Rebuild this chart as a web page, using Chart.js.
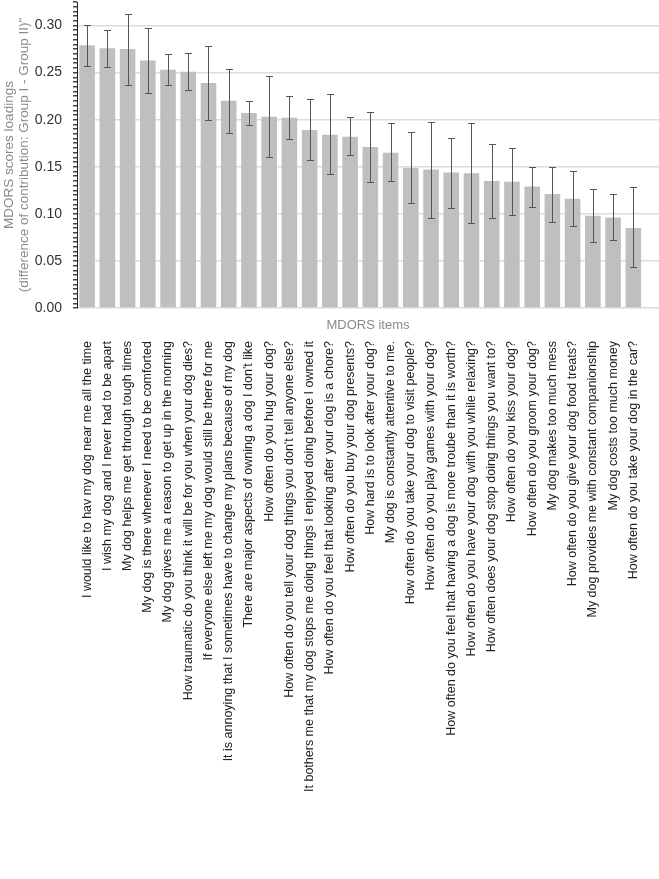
<!DOCTYPE html>
<html>
<head>
<meta charset="utf-8">
<script src="https://cdn.jsdelivr.net/npm/chart.js@4.4.1/dist/chart.umd.min.js"></script>
<style>
  html, body { margin: 0; padding: 0; background: #fff; }
  #wrap { width: 659px; height: 879px; position: relative; }
</style>
</head>
<body>
<div id="wrap"><canvas id="myChart"></canvas></div>
<script>
// MDORS items, sorted by loading
var items = [
  'I would like to hav my dog near me all the time',
  'I wish my dog and I never had to be apart',
  'My dog helps me get through tough times',
  'My dog is there whenever I need to be comforted',
  'My dog gives me a reason to get up in the morning',
  'How traumatic do you think it will be for you when your dog dies?',
  'If everyone else left me my dog would still be there for me',
  'It is annoying that I sometimes have to change my plans because of my dog',
  "There are major aspects of owning a dog I don't like",
  'How often do you hug your dog?',
  "How often do you tell your dog things you don't tell anyone else?",
  'It bothers me that my dog stops me doing things I enjoyed doing before I owned it',
  'How often do you feel that looking after your dog is a chore?',
  'How often do you buy your dog presents?',
  'How hard is to look after your dog?',
  'My dog is constantly attentive to me.',
  'How often do you take your dog to visit people?',
  'How often do you play games with your dog?',
  'How often do you feel that having a dog is more troube than it is worth?',
  'How often do you have your dog with you while relaxing?',
  'How often does your dog stop doing things you want to?',
  'How often do you kiss your dog?',
  'How often do you groom your dog?',
  'My dog makes too much mess',
  'How often do you give your dog food treats?',
  'My dog provides me with constant companionship',
  'My dog costs too much money',
  'How often do you take your dog in the car?'
];

var loadings = [0.279, 0.276, 0.275, 0.263, 0.253, 0.251, 0.239, 0.220, 0.207, 0.203, 0.202, 0.189, 0.184, 0.182,
                0.171, 0.165, 0.149, 0.147, 0.144, 0.143, 0.135, 0.134, 0.129, 0.121, 0.116, 0.098, 0.096, 0.085];
var upper = [0.301, 0.295, 0.312, 0.297, 0.270, 0.271, 0.278, 0.254, 0.220, 0.246, 0.225, 0.222, 0.227, 0.203,
             0.208, 0.196, 0.187, 0.198, 0.181, 0.196, 0.174, 0.170, 0.150, 0.150, 0.145, 0.126, 0.121, 0.128];
var lower = [0.257, 0.256, 0.237, 0.228, 0.237, 0.232, 0.200, 0.186, 0.194, 0.160, 0.179, 0.157, 0.142, 0.162,
             0.134, 0.135, 0.111, 0.096, 0.106, 0.090, 0.096, 0.099, 0.107, 0.091, 0.087, 0.070, 0.072, 0.044];

// y axis: labelled every 0.05, small ticks every 0.005
var yMax = 0.325;
var yMajor = 0.05;
var yMinor = 0.005;

// item index range of the x axis (plot runs a bit past the last bar)
var xMin = -0.5;
var xMax = 28.27;

function isMajor(v) {
  return Math.round(v * 1000) % Math.round(yMajor * 1000) === 0;
}

// draws the error bars from the upper / lower arrays
var errorBars = {
  id: 'errorBars',
  afterDatasetsDraw: function(chart) {
    var ctx = chart.ctx;
    var meta = chart.getDatasetMeta(0);
    var y = chart.scales.y;
    ctx.save();
    ctx.strokeStyle = '#555';
    ctx.lineWidth = 1;
    meta.data.forEach(function(bar, i) {
      var x = Math.round(bar.x) + 0.5;
      var yt = Math.round(y.getPixelForValue(upper[i])) + 0.5;
      var yb = Math.round(y.getPixelForValue(lower[i])) + 0.5;
      ctx.beginPath();
      ctx.moveTo(x, yt); ctx.lineTo(x, yb);
      ctx.moveTo(x - 3.5, yt); ctx.lineTo(x + 3.5, yt);
      ctx.moveTo(x - 3.5, yb); ctx.lineTo(x + 3.5, yb);
      ctx.stroke();
    });
    ctx.restore();
  }
};

Chart.defaults.font.family = 'Arial, "Liberation Sans", sans-serif';

var ctx = document.getElementById('myChart').getContext('2d');
var myChart = new Chart(ctx, {
  type: 'bar',
  data: {
    datasets: [{
      xAxisID: 'x',
      yAxisID: 'y',
      data: loadings.map(function(v, i) { return { x: i, y: v }; }),
      backgroundColor: '#bfbfbf',
      borderWidth: 0,
      barPercentage: 0.77,
      categoryPercentage: 1.0
    }]
  },
  plugins: [errorBars],
  options: {
    responsive: true,
    maintainAspectRatio: false,
    animation: false,
    layout: { padding: { top: 2, right: -14, left: 0, bottom: 0 } },
    plugins: {
      legend: { display: false },
      tooltip: { enabled: false }
    },
    scales: {
      x: {
        type: 'linear',
        position: 'bottom',
        weight: 1,
        min: xMin,
        max: xMax,
        offset: false,
        grid: { display: false, drawTicks: false, offset: false },
        border: { display: false },
        afterBuildTicks: function(s) {
          s.ticks = items.map(function(t, i) { return { value: i }; });
        },
        ticks: {
          autoSkip: false,
          minRotation: 90,
          maxRotation: 90,
          padding: 7,
          color: '#222',
          font: { size: 12.5 },
          callback: function(v) { return items[v]; }
        },
        afterFit: function(s) { s.height = 545; }
      },
      xTitle: {
        type: 'linear',
        position: 'bottom',
        weight: 0,
        min: xMin,
        max: xMax,
        offset: false,
        grid: { display: false },
        border: { display: false },
        ticks: { display: false },
        title: {
          display: true,
          text: 'MDORS items',
          color: '#8a8a8a',
          font: { size: 13 },
          padding: { top: 0, bottom: 1 }
        },
        afterFit: function(s) { s.height = 26; }
      },
      y: {
        min: 0,
        max: yMax,
        afterFit: function(s) { s.width = 77; s.paddingTop = 0; },
        border: { display: true, color: '#222', width: 1 },
        grid: {
          drawTicks: true,
          tickLength: 4,
          tickColor: '#444',
          color: function(c) { return c.tick && isMajor(c.tick.value) ? '#dcdcdc' : 'rgba(0,0,0,0)'; },
          lineWidth: 1.5
        },
        ticks: {
          stepSize: yMinor,
          maxTicksLimit: 200,
          autoSkip: false,
          padding: 11,
          color: '#333',
          font: function(c) { return { size: c.tick && isMajor(c.tick.value) ? 14 : 1 }; },
          callback: function(v) { return isMajor(v) ? v.toFixed(2) : ''; }
        },
        title: {
          display: true,
          text: ['MDORS scores loadings', '(difference of contribution: Group I - Group II)"'],
          color: '#8a8a8a',
          font: { size: 13.5, lineHeight: 1.1 },
          padding: { top: 2, bottom: 0 }
        }
      }
    }
  }
});
</script>
</body>
</html>
